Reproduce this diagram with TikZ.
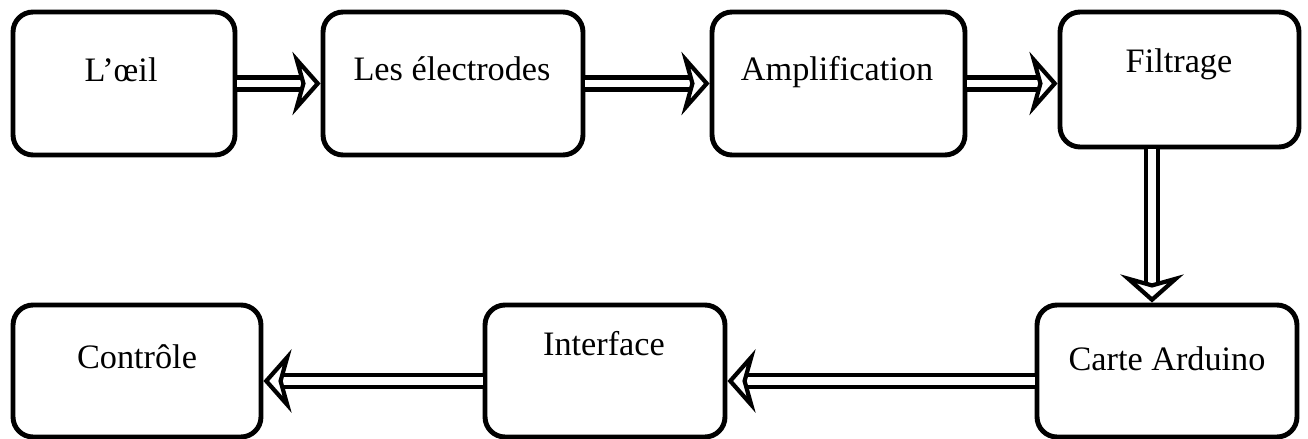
\documentclass[tikz,border=0pt]{standalone}
\usepackage{fontspec}
\setmainfont{Liberation Serif}
\usetikzlibrary{arrows.meta}

\tikzset{
  bloc/.style={draw,line width=2.8pt,rounded corners=0.4cm,rectangle,inner sep=0pt},
  etiq/.style={anchor=base,inner sep=0pt,font=\fontsize{19.5}{23}\selectfont},
  fleche/.style={double,double distance=4.5pt,line width=2.4pt,-{Stealth[open,width=36pt,length=16pt,inset=5pt,line width=2.4pt]}}
}

\begin{document}
\begin{tikzpicture}[x=0.02cm,y=-0.02cm]
                \useasboundingbox (0,0) rectangle (1308,439);
                % blocs du haut
                \node [bloc,minimum width=4.44cm,minimum height=2.86cm] (oeil) at (124,83.5) {};
                \node [bloc,minimum width=5.2cm,minimum height=2.86cm] (electrodes) at (453,83.5) {};
                \node [bloc,minimum width=5.06cm,minimum height=2.86cm] (ampli) at (838.5,83.5) {};
                \node [bloc,minimum width=4.78cm,minimum height=2.7cm] (filtrage) at (1179.5,79.5) {};
                % blocs du bas
                \node [bloc,minimum width=5.2cm,minimum height=2.64cm] (carte) at (1167,371) {};
                \node [bloc,minimum width=4.8cm,minimum height=2.64cm] (interface) at (605,371) {};
                \node [bloc,minimum width=4.96cm,minimum height=2.64cm] (controle) at (137,371) {};
                % textes
                \node [etiq] (t-oeil) at (121,82) {L’œil};
                \node [etiq] (t-electrodes) at (452,81) {Les électrodes};
                \node [etiq] (t-ampli) at (837,81) {Amplification};
                \node [etiq] (t-filtrage) at (1179,73) {Filtrage};
                \node [etiq] (t-carte) at (1167,370) {Carte Arduino};
                \node [etiq] (t-interface) at (604,355) {Interface};
                \node [etiq] (t-controle) at (137,368) {Contrôle};
                % fleches
                \draw [fleche] (oeil) -- (electrodes);
                \draw [fleche] (electrodes) -- (ampli);
                \draw [fleche] (ampli.east) -- (ampli.east -| filtrage.west);
                \draw [fleche] ([xshift=-0.55cm]filtrage.south) -- ([xshift=-0.55cm]filtrage.south |- carte.north);
                \draw [fleche] ([yshift=-0.2cm]carte.west) -- ([yshift=-0.2cm]carte.west -| interface.east);
                \draw [fleche] ([yshift=-0.2cm]interface.west) -- ([yshift=-0.2cm]interface.west -| controle.east);
            \end{tikzpicture}
\end{document}
